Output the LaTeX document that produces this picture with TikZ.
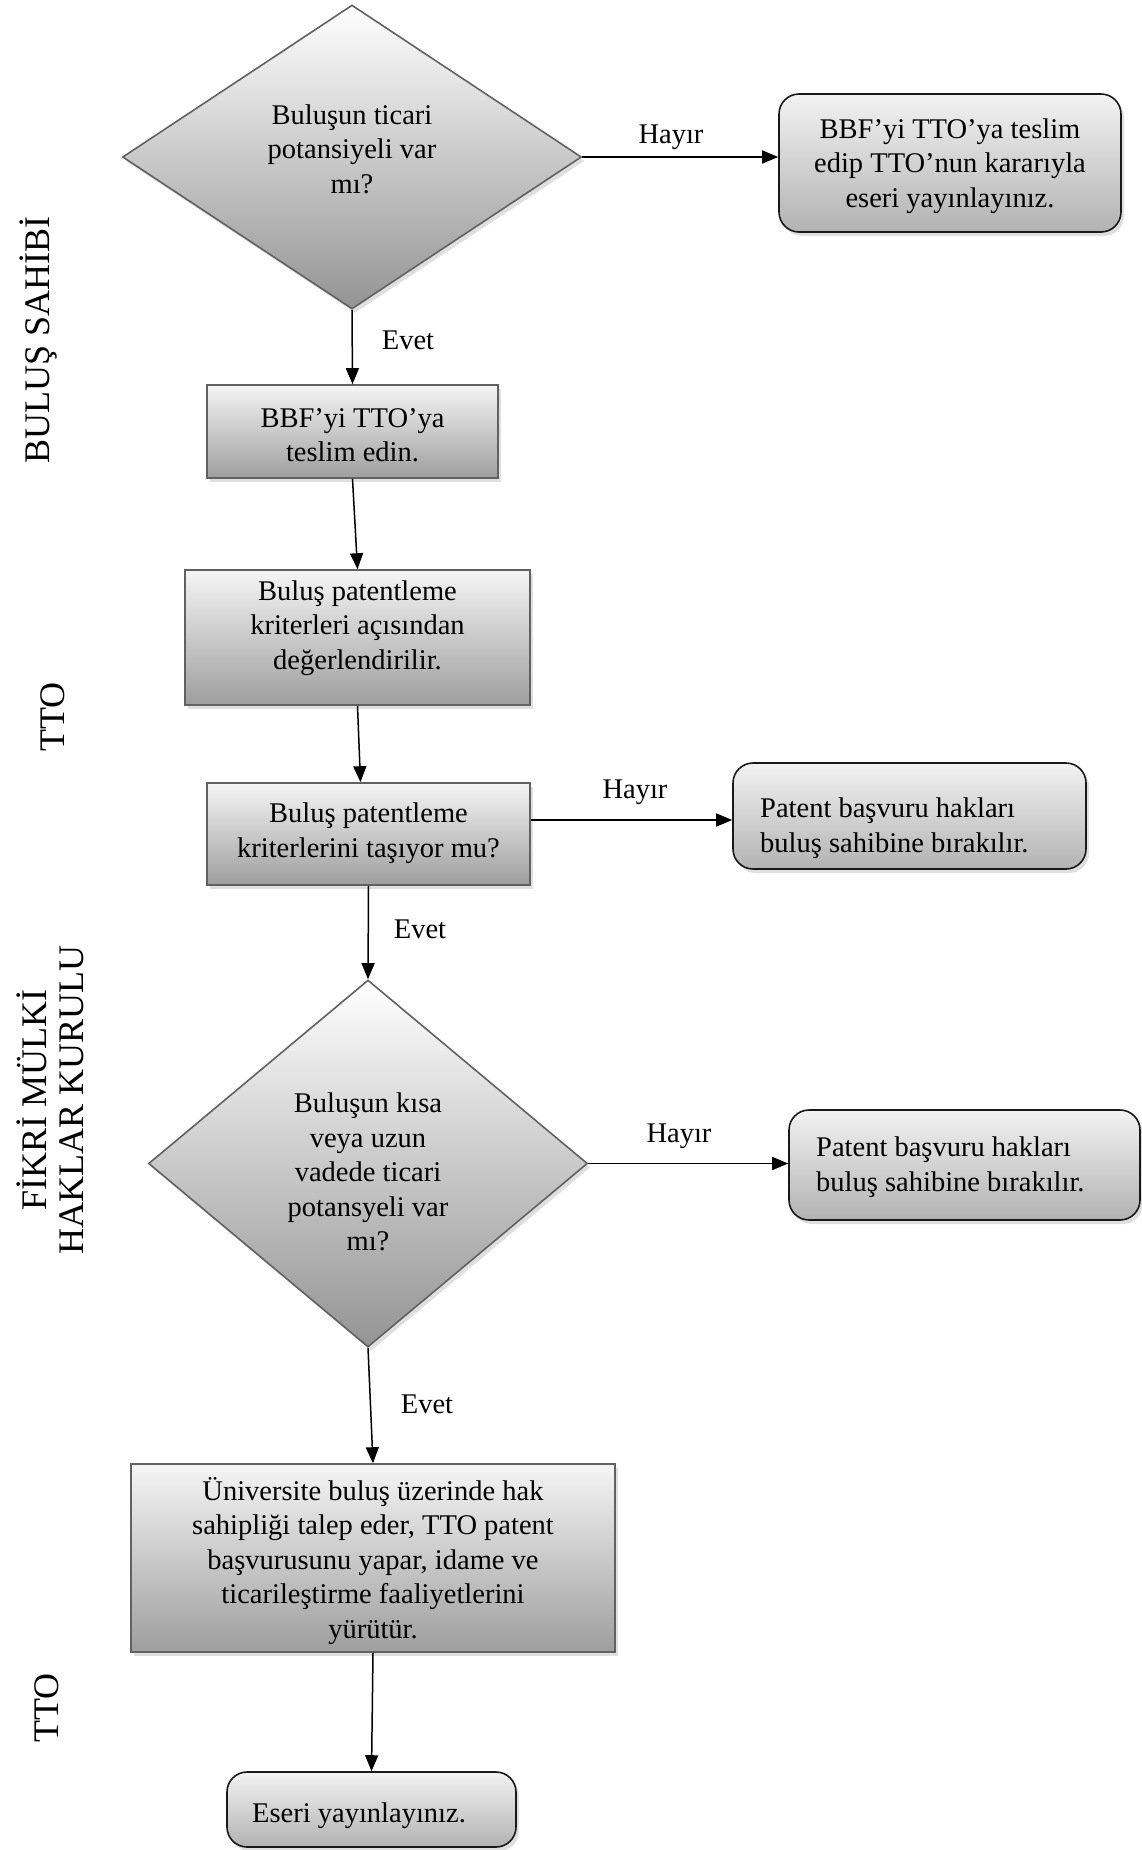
\documentclass[tikz,border=0pt]{standalone}
\usepackage{fontspec}
\setmainfont{Liberation Serif}
\usetikzlibrary{shapes.geometric,shadows,arrows.meta}
\begin{document}
\begin{tikzpicture}[x=1pt,y=-1pt,
  txt/.style={font=\fontsize{28.5}{34.5}\selectfont, align=center, inner sep=0pt},
  ltxt/.style={font=\fontsize{28.5}{34.5}\selectfont, align=left, inner sep=0pt, anchor=west},
  side/.style={font=\fontsize{36}{37}\selectfont, align=center, inner sep=0pt, rotate=90},
  shd/.style={drop shadow={shadow xshift=3pt, shadow yshift=-4pt, fill=black!25}},
  sqbox/.style={rectangle, draw=black!62, line width=1.6pt, top color=black!4, middle color=black!17, bottom color=black!38, shd, inner sep=0pt},
  rbox/.style={rectangle, rounded corners=20pt, draw=black!90, line width=1.6pt, top color=black!5, middle color=black!14, bottom color=black!30, shd, inner sep=0pt},
  dia/.style={diamond, draw=black!62, line width=1.6pt, fill=white, shd, inner sep=0pt,
    path picture={\shade[top color=white, middle color=black!10, bottom color=black!42]
      (path picture bounding box.north west) rectangle (path picture bounding box.south east);}},
  arr/.style={line width=1.5pt, -{Triangle[length=16pt,width=13pt]}},
  lbl/.style={font=\fontsize{28.5}{34.5}\selectfont, inner sep=0pt}
]
\useasboundingbox (0,0) rectangle (1142,1850);

% shapes
\node[dia, minimum width=459pt, minimum height=304pt] (d1) at (352,157) {};
\node[rbox, minimum width=342pt, minimum height=138pt] (r1) at (950,163) {};
\node[sqbox, minimum width=291pt, minimum height=93pt] (bA) at (352.5,431.5) {};
\node[sqbox, minimum width=345pt, minimum height=135pt] (bB) at (357.5,637.5) {};
\node[sqbox, minimum width=323pt, minimum height=102pt] (bC) at (368.5,834) {};
\node[rbox, minimum width=353pt, minimum height=106pt] (bD) at (909.5,816) {};
\node[dia, minimum width=439pt, minimum height=367pt] (d2) at (368,1163.5) {};
\node[rbox, minimum width=351pt, minimum height=110pt] (bE) at (964.5,1165) {};
\node[sqbox, minimum width=484pt, minimum height=188pt] (bF) at (373,1558) {};
\node[rbox, minimum width=289pt, minimum height=75pt] (bG) at (371.5,1809.5) {};

% texts
\node[txt] (t1) at (352,149) {Buluşun ticari\\potansiyeli var\\mı?};
\node[txt] (tr1) at (950,166) {BBF’yi TTO’ya teslim\\edip TTO’nun kararıyla\\eseri yayınlayınız.};
\node[txt] (tA) at (352.5,435) {BBF’yi TTO’ya\\teslim edin.};
\node[txt] (tB) at (357.5,628) {Buluş patentleme\\kriterleri açısından\\değerlendirilir.};
\node[txt] (tC) at (368.5,833) {Buluş patentleme\\kriterlerini taşıyor mu?};
\node[ltxt] (tD) at (760,828) {Patent başvuru hakları\\buluş sahibine bırakılır.};
\node[txt] (t2) at (368,1172) {Buluşun kısa\\veya uzun\\vadede ticari\\potansyeli var\\mı?};
\node[ltxt] (tE) at (816,1167) {Patent başvuru hakları\\buluş sahibine bırakılır.};
\node[txt] (tF) at (373,1561) {Üniversite buluş üzerinde hak\\sahipliği talep eder, TTO patent\\başvurusunu yapar, idame ve\\ticarileştirme faaliyetlerini\\yürütür.};
\node[ltxt] (tG) at (252,1816) {Eseri yayınlayınız.};

% connectors
\draw[arr] (d1.south) -- (bA.north);
\draw[arr] (d1.east) -- (d1.east -| r1.west);
\draw[arr] (bA.south) -- (bB.north);
\draw[arr] (bB.south) -- ([xshift=-8pt]bC.north);
\draw[arr] ([yshift=14pt]bC.east) -- ([yshift=14pt]bC.east -| bD.west);
\draw[arr] (bC.south) -- (d2.north);
\draw[arr] (d2.east) -- (d2.east -| bE.west);
\draw[arr] (d2.south) -- (bF.north);
\draw[arr] (bF.south) -- (bG.north);

% connector labels
\node[lbl] (h1) at (671,137) {Hayır};
\node[lbl] (h2) at (635,792) {Hayır};
\node[lbl] (h3) at (679,1136) {Hayır};
\node[lbl] (e1) at (408,340) {Evet};
\node[lbl] (e2) at (420,929) {Evet};
\node[lbl] (e3) at (427,1404) {Evet};

% side labels
\node[side] (s1) at (38,340) {BULUŞ SAHİBİ};
\node[side] (s2) at (53,717) {TTO};
\node[side] (s3) at (50,1100) {FİKRİ MÜLKİ\\HAKLAR KURULU};
\node[side] (s4) at (47,1708) {TTO};
\end{tikzpicture}
\end{document}
